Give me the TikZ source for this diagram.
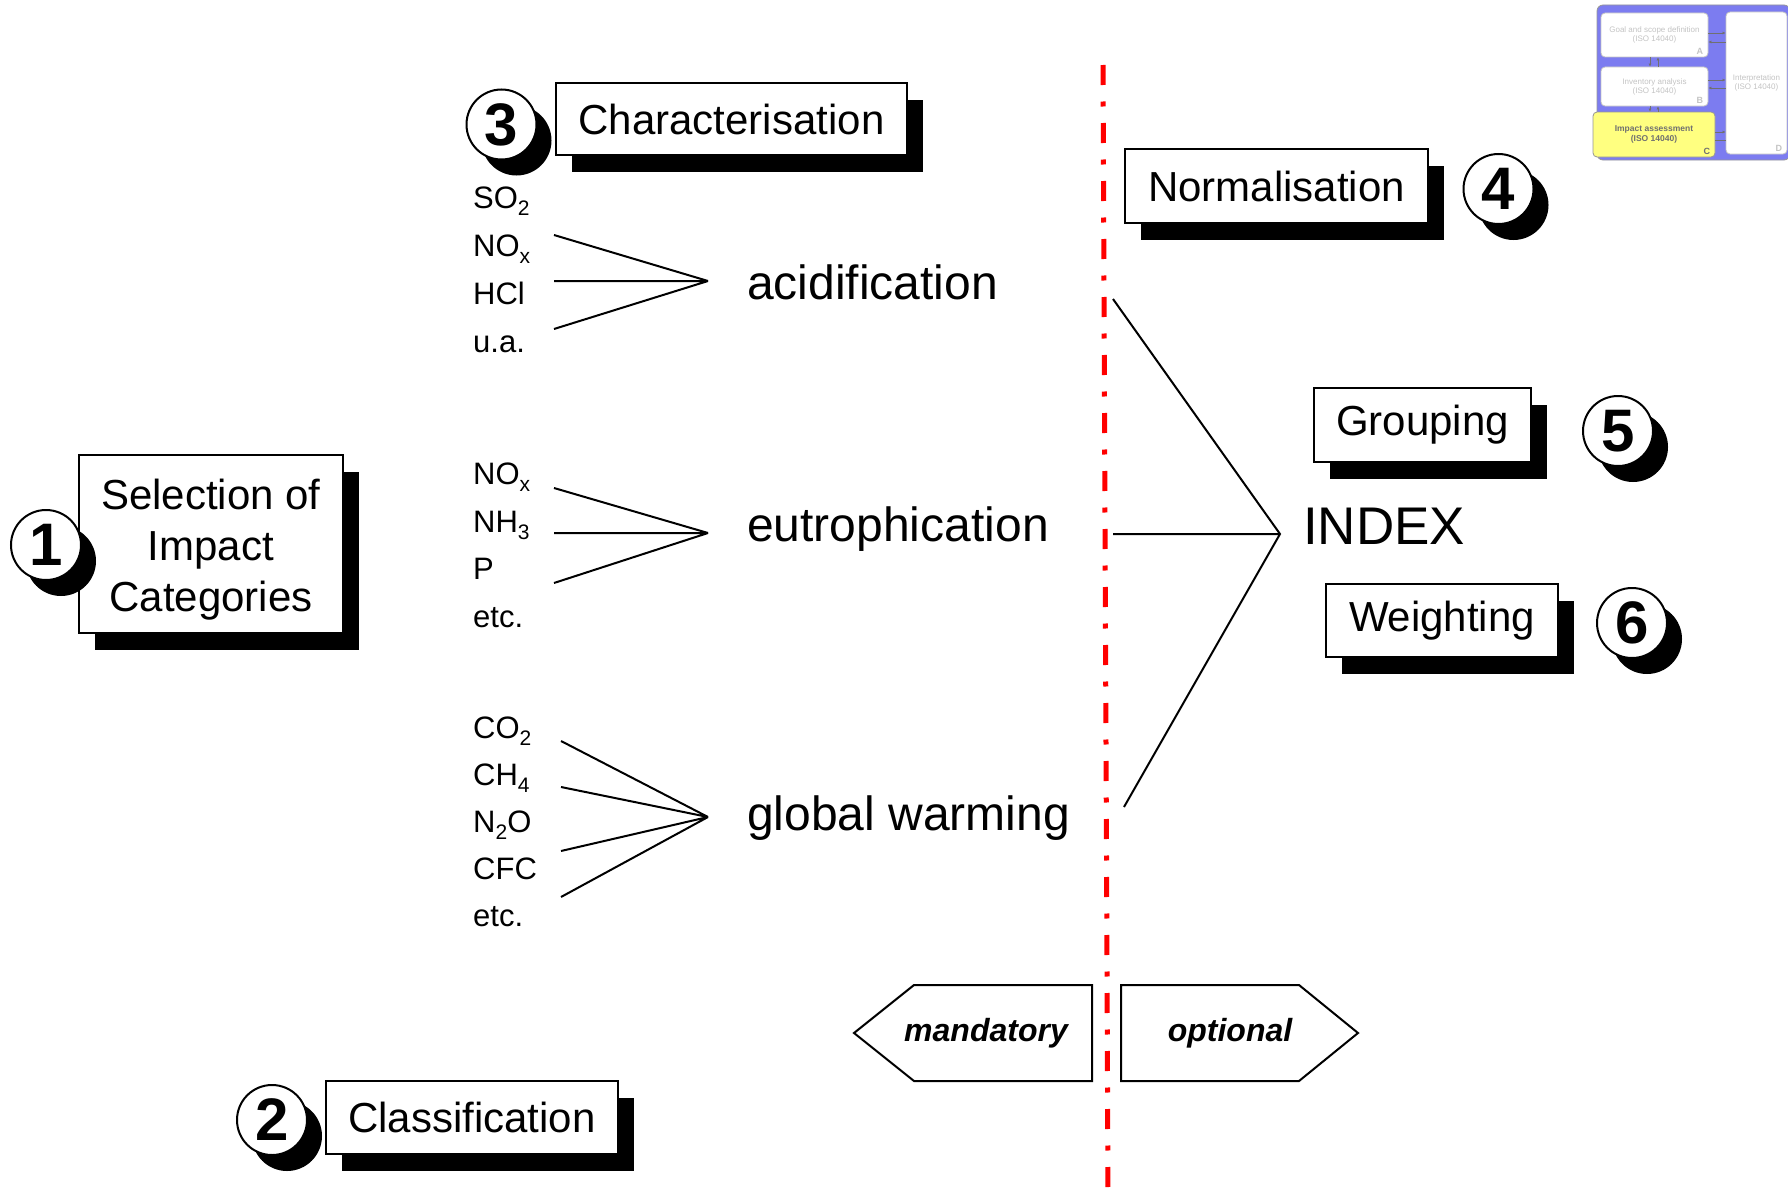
\documentclass[tikz,border=0pt]{standalone}
\usepackage{fontspec}
\setmainfont{Liberation Sans}
\usetikzlibrary{shadows,arrows.meta}

\newcommand{\fsz}[1]{\fontsize{#1}{#1}\selectfont}
\newcommand{\chemsub}[1]{\raisebox{-7pt}{\fontsize{21}{21}\selectfont #1}}

\definecolor{dashred}{RGB}{255,0,0}
\definecolor{panelblue}{RGB}{124,124,240}
\definecolor{panelyellow}{RGB}{255,255,128}
\definecolor{paneledge}{RGB}{150,150,150}
\definecolor{palegrey}{RGB}{196,196,196}
\definecolor{midgrey}{RGB}{112,112,112}

\tikzset{
  stepbox/.style={draw, line width=2pt, fill=white, inner sep=0pt, align=center,
    font=\fsz{42},
    drop shadow={shadow xshift=16pt, shadow yshift=-17pt, opacity=1, fill=black}},
  numdisc/.style={circle, draw, line width=2pt, fill=white, minimum size=70pt,
    inner sep=0pt, font=\bfseries\fsz{60},
    drop shadow={shadow xshift=15pt, shadow yshift=-16pt, opacity=1, fill=black}},
  chem/.style={anchor=base west, inner sep=0pt, font=\fsz{31}},
  cat/.style={anchor=base west, inner sep=0pt, font=\fsz{48}},
  link/.style={line width=2pt},
  tag/.style={draw, line width=2pt, line join=miter, fill=white},
  tagtext/.style={inner sep=0pt, font=\bfseries\itshape\fsz{32}},
  redline/.style={draw=dashred, line width=5pt,
    dash pattern=on 20pt off 16.5pt on 5pt off 16.5pt},
  minibox/.style={draw=palegrey, line width=0.8pt, fill=white, rounded corners=4pt,
    inner sep=0pt, align=center, font=\fsz{8}, text=palegrey},
  miniletter/.style={anchor=south east, inner sep=0pt, font=\bfseries\fsz{9}},
  miniarrow/.style={draw=midgrey, line width=0.8pt,
    arrows={-{Latex[length=3pt,width=3pt]}}},
}

\begin{document}
\begin{tikzpicture}[x=1pt,y=-1pt]
\useasboundingbox (0,0) rectangle (1788,1199);

% ---- process overview panel (top right) ----
\fill[panelblue, draw=paneledge, line width=0.8pt, rounded corners=6pt]
  (1597,5) rectangle (1790,160);
\node[minibox, minimum width=107pt, minimum height=44pt] (goal) at (1654.5,35)
  {Goal and scope definition\\[1pt](ISO 14040)};
\node[minibox, minimum width=107pt, minimum height=39pt] (inv) at (1654.5,86.5)
  {Inventory analysis\\[1pt](ISO 14040)};
\node[minibox, fill=panelyellow, draw=paneledge, minimum width=122pt,
  minimum height=45pt, text=midgrey, font=\bfseries\fsz{8.5}] (imp) at (1654,134.5)
  {Impact assessment\\[1pt](ISO 14040)};
\node[minibox, minimum width=61pt, minimum height=142pt] (interp) at (1756.5,83)
  {Interpretation\\[1pt](ISO 14040)};
\node[miniletter, text=palegrey] at ([shift={(-5pt,3pt)}]goal.south east) {A};
\node[miniletter, text=palegrey] at ([shift={(-5pt,3pt)}]inv.south east) {B};
\node[miniletter, text=midgrey] at ([shift={(-5pt,3pt)}]imp.south east) {C};
\node[miniletter, text=palegrey] at ([shift={(-5pt,3pt)}]interp.south east) {D};

\draw[miniarrow] ([yshift=2pt]goal.east) -- ([yshift=2pt]goal.east -| interp.west);
\draw[miniarrow] ([yshift=-7pt]goal.east -| interp.west) -- ([yshift=-7pt]goal.east);
\draw[miniarrow] ([yshift=6.5pt]inv.east) -- ([yshift=6.5pt]inv.east -| interp.west);
\draw[miniarrow] ([yshift=-1.5pt]inv.east -| interp.west) -- ([yshift=-1.5pt]inv.east);
\draw[miniarrow] ([yshift=2.5pt]imp.east) -- ([yshift=2.5pt]imp.east -| interp.west);
\draw[draw=midgrey, line width=0.8pt] ([yshift=-5.5pt]imp.east) -- ([yshift=-5.5pt]imp.east -| interp.west);
\draw[miniarrow] ([xshift=-4.5pt]goal.south) -- ([xshift=-4.5pt]inv.north);
\draw[miniarrow] ([xshift=3.5pt]inv.north) -- ([xshift=3.5pt]goal.south);
\draw[miniarrow] ([xshift=-4.5pt]inv.south) -- ([xshift=-4.5pt]inv.south |- imp.north);
\draw[miniarrow] ([xshift=3.5pt]inv.south |- imp.north) -- ([xshift=3.5pt]inv.south);

% ---- mandatory / optional divider ----
\coordinate (divtop) at (1103,65);
\coordinate (divbot) at (1108,1199);
\draw[redline] (divtop) -- (divbot);

% ---- step boxes ----
\node[stepbox, minimum width=264pt, minimum height=178pt,
  font=\fontsize{42}{51}\selectfont]
  (sel) at (211,544)
  {\raisebox{-6pt}[\height][\depth]{\begin{tabular}{@{}c@{}}Selection of\\Impact\\Categories\end{tabular}}};
\node[stepbox, minimum width=292pt, minimum height=73pt] (cls) at (472,1117.5) {Classification};
\node[stepbox, minimum width=351pt, minimum height=72pt] (chr) at (731.5,119) {Characterisation};
\node[stepbox, minimum width=303pt, minimum height=74pt] (nrm) at (1276.5,186) {Normalisation};
\node[stepbox, minimum width=217pt, minimum height=74pt] (grp) at (1422.5,425) {Grouping};
\node[stepbox, minimum width=232pt, minimum height=73pt] (wgt) at (1442,620.5) {Weighting};

% ---- step numbers ----
\node[numdisc] (n1) at (46,545) {1};
\node[numdisc] (n2) at (272,1120) {2};
\node[numdisc] (n3) at (501.5,124.5) {3};
\node[numdisc] (n4) at (1498.5,189) {4};
\node[numdisc] (n5) at (1618,431) {5};
\node[numdisc] (n6) at (1632,623) {6};

% ---- acidification ----
\node[chem] (a1) at (473,208) {SO\chemsub{2}};
\node[chem] (a2) at (473,256) {NO\chemsub{x}};
\node[chem] (a3) at (473,304) {HCl};
\node[chem] (a4) at (473,352) {u.a.};
\node[cat] (acid) at (747,299) {acidification};
\coordinate (acidtip) at (708,281);
\coordinate (as1) at (554,235);
\coordinate (as2) at (554,281);
\coordinate (as3) at (554,329);
\draw[link] (as1) -- (acidtip) (as2) -- (acidtip) (as3) -- (acidtip);

% ---- eutrophication ----
\node[chem] (e1) at (473,484) {NO\chemsub{x}};
\node[chem] (e2) at (473,532) {NH\chemsub{3}};
\node[chem] (e3) at (473,579) {P};
\node[chem] (e4) at (473,627) {etc.};
\node[cat] (eutro) at (747,541) {eutrophication};
\coordinate (eutrotip) at (708,533);
\coordinate (es1) at (554,488);
\coordinate (es2) at (554,533);
\coordinate (es3) at (554,583);
\draw[link] (es1) -- (eutrotip) (es2) -- (eutrotip) (es3) -- (eutrotip);

% ---- global warming ----
\node[chem] (g1) at (473,738) {CO\chemsub{2}};
\node[chem] (g2) at (473,785) {CH\chemsub{4}};
\node[chem] (g3) at (473,832) {N\chemsub{2}O};
\node[chem] (g4) at (473,879) {CFC};
\node[chem] (g5) at (473,926) {etc.};
\node[cat] (gw) at (747,830) {global warming};
\coordinate (gwtip) at (708,817);
\coordinate (gs1) at (561,741);
\coordinate (gs2) at (561,787);
\coordinate (gs3) at (561,851);
\coordinate (gs4) at (561,897);
\draw[link] (gs1) -- (gwtip) (gs2) -- (gwtip) (gs3) -- (gwtip) (gs4) -- (gwtip);

% ---- index ----
\node[anchor=base west, inner sep=0pt, font=\fsz{53}] (index) at (1303,544) {INDEX};
\coordinate (idxtip) at (1280,534);
\coordinate (ia) at (1113,299);
\coordinate (ib) at (1113,534);
\coordinate (ic) at (1124,807);
\draw[link] (ia) -- (idxtip) -- (ic) (ib) -- (idxtip);

% ---- mandatory / optional tags ----
\draw[tag] (854,1033) -- (914,985) -- (1092,985) -- (1092,1081) -- (914,1081) -- cycle;
\draw[tag] (1121,985) -- (1299,985) -- (1358,1033) -- (1299,1081) -- (1121,1081) -- cycle;
\node[tagtext] (mand) at (986,1033) {mandatory};
\node[tagtext] (opt) at (1230,1033) {optional};
\end{tikzpicture}
\end{document}
